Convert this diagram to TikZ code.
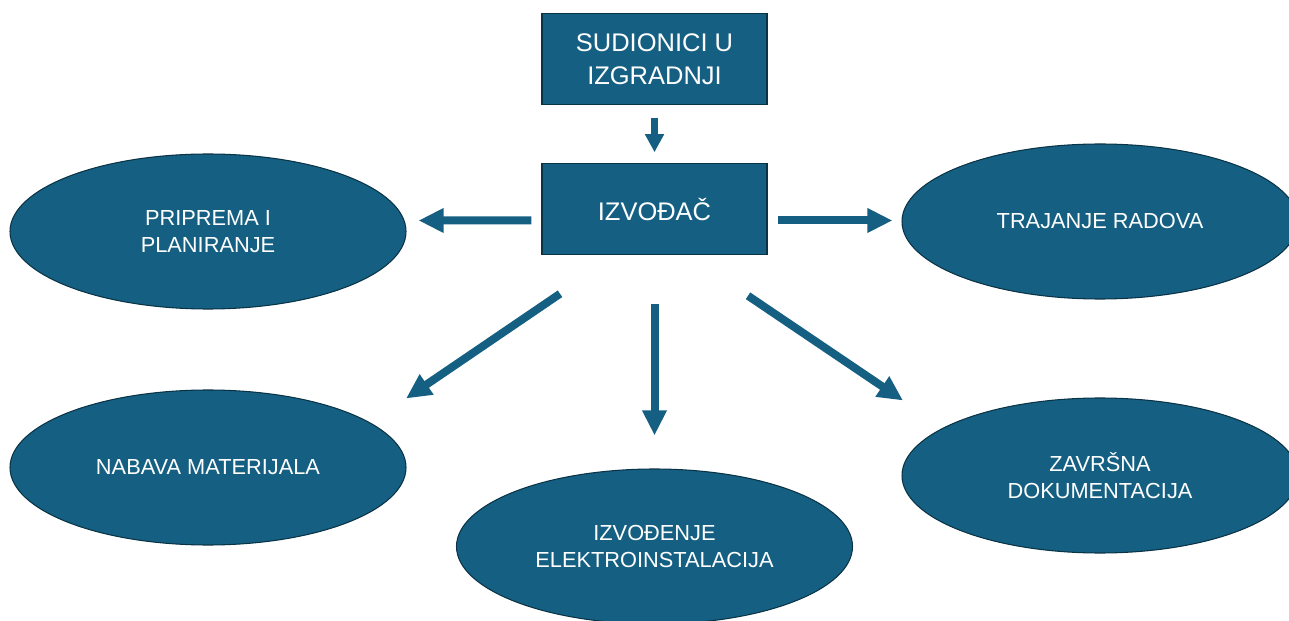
\documentclass[tikz,border=0pt]{standalone}
\usepackage{fontspec}
\setmainfont{Liberation Sans}
\usepackage{tikz}
\usetikzlibrary{arrows.meta,shapes.geometric,positioning}
\definecolor{tealfill}{HTML}{156082}
\definecolor{tealline}{HTML}{0B3346}

\begin{document}
\begin{tikzpicture}[>=Triangle, node distance=3cm]
      \tikzstyle{hbox} = [draw=tealline, line width=0.6pt, fill=tealfill, text=white, minimum width=4.5cm, minimum height=1.81cm, inner sep=0pt, align=center, font=\fontsize{14.5}{19}\selectfont]
      \tikzstyle{oval} = [ellipse, draw=tealline, line width=0.6pt, fill=tealfill, text=white, minimum width=7.92cm, minimum height=3.1cm, inner sep=0pt, align=center, font=\fontsize{12.4}{15.7}\selectfont]
      \tikzstyle{bigarrow} = [draw=tealfill, line width=0.16cm, -{Triangle[width=0.46cm, length=0.5cm]}]
      \tikzstyle{smallarrow} = [draw=tealfill, line width=0.14cm, -{Triangle[width=0.36cm, length=0.36cm]}]
      \useasboundingbox (0,0) rectangle (25.78,-12.42);
	\path
	node[hbox] (sud) at (13.09,-1.18) {SUDIONICI U\\IZGRADNJI}
	node[hbox, below of=sud] (izv) {IZVOĐAČ}
	node[oval, left of=izv, node distance=8.93cm, yshift=-0.45cm] (prip) {PRIPREMA I\\PLANIRANJE}
	node[oval, right of=izv, node distance=8.91cm, yshift=-0.25cm] (traj) {TRAJANJE RADOVA}
	node[oval, below of=prip, node distance=4.72cm] (nab) {NABAVA MATERIJALA}
	node[oval, below of=traj, node distance=5.08cm] (zav) {ZAVRŠNA\\DOKUMENTACIJA}
	node[oval, below of=izv, node distance=6.75cm] (elek) {IZVOĐENJE\\ELEKTROINSTALACIJA}
	coordinate (lft1) at ([xshift=-0.2cm, yshift=-0.23cm]izv.west)
	coordinate (lft2) at ([xshift=0.24cm, yshift=0.22cm]prip.east)
	coordinate (rgt1) at ([xshift=0.2cm, yshift=-0.23cm]izv.east)
	coordinate (rgt2) at ([xshift=-0.18cm, yshift=0.02cm]traj.west)
	coordinate (dl1) at ([xshift=-1.89cm, yshift=-0.78cm]izv.south)
	coordinate (dl2) at ([xshift=3.96cm, yshift=-0.18cm]nab.north)
	coordinate (dr1) at ([xshift=1.87cm, yshift=-0.82cm]izv.south)
	coordinate (dr2) at ([xshift=-3.94cm, yshift=-0.06cm]zav.north)
	(sud) edge[smallarrow, shorten <=0.26cm, shorten >=0.22cm] (izv)
	(lft1) edge[bigarrow] (lft2)
	(rgt1) edge[bigarrow] (rgt2)
	(dl1) edge[bigarrow] (dl2)
	(dr1) edge[bigarrow] (dr2)
	(izv) edge[bigarrow, shorten <=0.98cm, shorten >=0.66cm] (elek)
	;
    \end{tikzpicture}
\end{document}
